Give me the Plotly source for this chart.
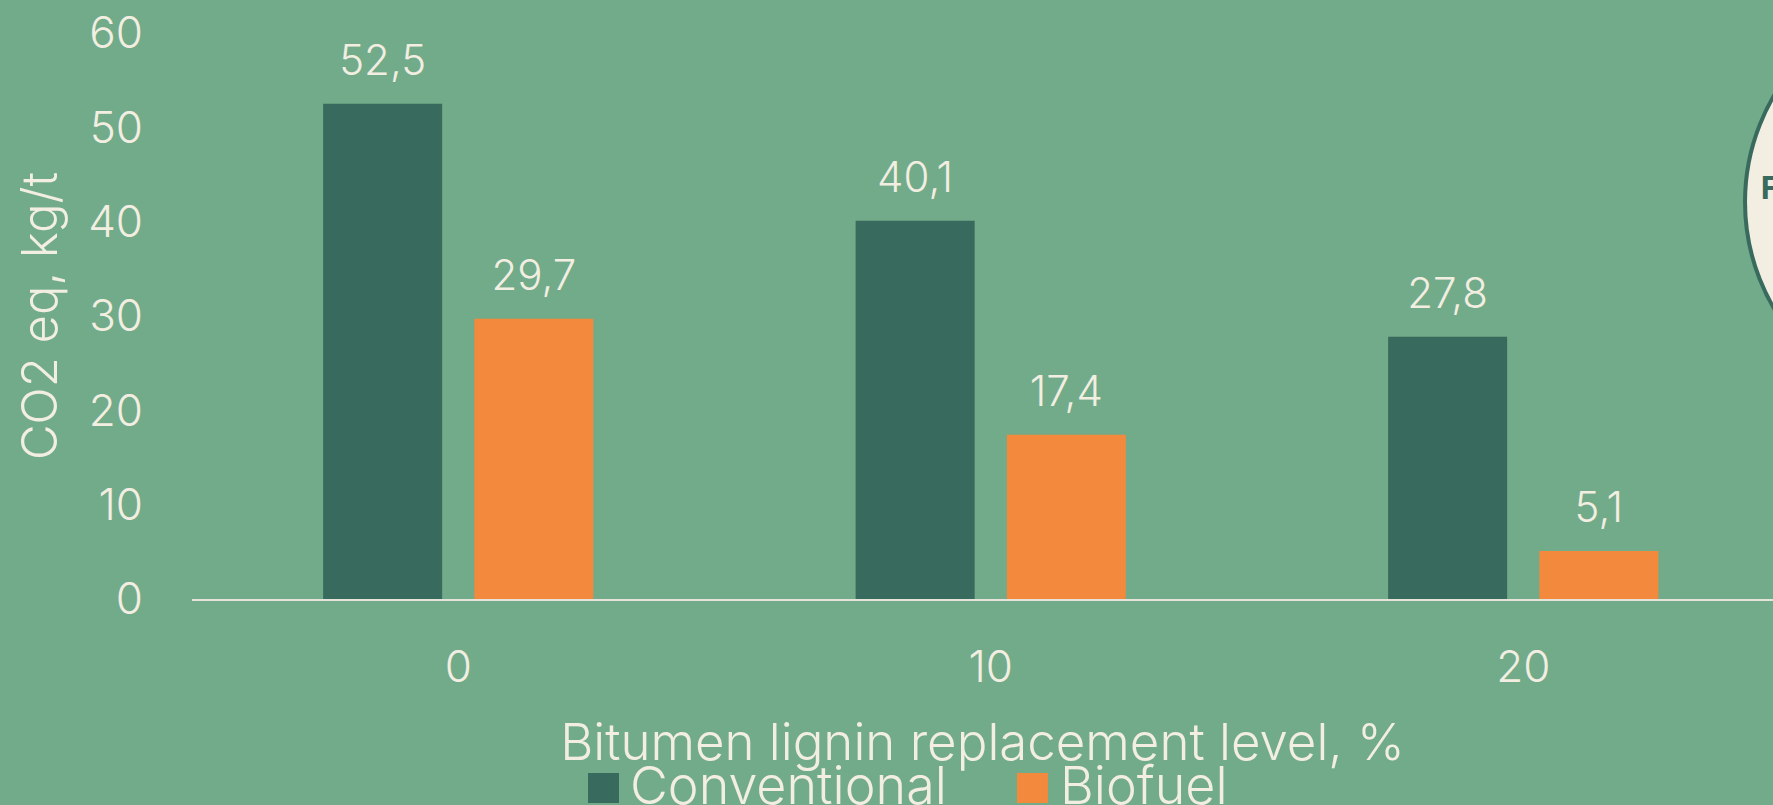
import plotly.graph_objects as go

categories = ["0", "10", "20"]
conventional = [52.5, 40.1, 27.8]
biofuel = [29.7, 17.4, 5.1]
series_names = ["Conventional", "Biofuel"]
y_ticks = [0, 10, 20, 30, 40, 50, 60]

BG = "#72AB89"
DARK = "#386A5E"
ORANGE = "#F2893D"
CREAM = "#F2EEE2"
FONT = "Inter"
W = 300


def fmt(v):
    return f"{v:.1f}".replace(".", ",")


fig = go.Figure()
for name, vals, col in [(series_names[0], conventional, DARK), (series_names[1], biofuel, ORANGE)]:
    fig.add_trace(go.Bar(
        x=categories, y=vals, name=name, marker=dict(color=col, line=dict(width=0)),
        offsetgroup=name, showlegend=False, hoverinfo="skip",
    ))
    fig.add_trace(go.Scatter(
        x=categories, y=vals, mode="markers+text", text=[fmt(v) for v in vals],
        textposition="top center", offsetgroup=name,
        marker=dict(size=28, color="rgba(0,0,0,0)"),
        textfont=dict(family=FONT, size=42, color=CREAM, weight=W),
        showlegend=False, hoverinfo="skip", cliponaxis=False,
    ))

# legend (custom, large squares)
leg_items = [(series_names[0], DARK, 0.2505, 0.2701, 0.2765), (series_names[1], ORANGE, 0.5218, 0.5414, 0.5485)]
for name, col, x0, x1, xt in leg_items:
    fig.add_shape(type="rect", xref="paper", yref="paper", x0=x0, x1=x1,
                  y0=-0.3604, y1=-0.3074, fillcolor=col, line=dict(width=0))
    fig.add_annotation(xref="paper", yref="paper", x=xt, y=-0.329, xanchor="left", yanchor="middle",
                       text=name, showarrow=False, borderpad=0,
                       font=dict(family=FONT, size=52, color=CREAM, weight=W))

# partial badge at right edge
fig.add_shape(type="circle", xref="paper", yref="paper", x0=0.9823, x1=1.248, y0=0.3304, y1=1.0724,
              fillcolor=CREAM, line=dict(color=DARK, width=4), layer="above")
fig.add_annotation(xref="paper", yref="paper", x=0.9905, y=0.728, xanchor="left", yanchor="middle",
                   text="<b>F</b>", showarrow=False, font=dict(family="Open Sans", size=32, color=DARK))

fig.update_layout(
    width=1773, height=805,
    paper_bgcolor=BG, plot_bgcolor=BG,
    margin=dict(l=192, r=0, t=33, b=206),
    barmode="group", bargap=0.432, bargroupgap=0.213,
    scattermode="group", scattergap=0.432,
    font=dict(family=FONT, color=CREAM),
    showlegend=False,
    hovermode=False,
    xaxis=dict(
        type="category", range=[-0.5, 2.469], showgrid=False, zeroline=False,
        showline=True, linecolor="#E6E3DA", linewidth=2,
        ticks="", ticklabelstandoff=28,
        tickfont=dict(family=FONT, size=44, color=CREAM, weight=W),
        title=dict(text="Bitumen lignin replacement level, %", standoff=33,
                   font=dict(family=FONT, size=51, color=CREAM, weight=W)),
    ),
    yaxis=dict(
        range=[0, 60], tickvals=y_ticks, showgrid=False, zeroline=False, showline=False,
        ticks="", ticklabelstandoff=48,
        tickfont=dict(family=FONT, size=44, color=CREAM, weight=W),
        title=dict(text="CO2 eq, kg/t", standoff=14,
                   font=dict(family=FONT, size=49, color=CREAM, weight=W)),
    ),
)

fig.write_html("out.html", config={"displayModeBar": False},
               post_script="document.body.style.margin='0';document.body.style.overflow='hidden';")
